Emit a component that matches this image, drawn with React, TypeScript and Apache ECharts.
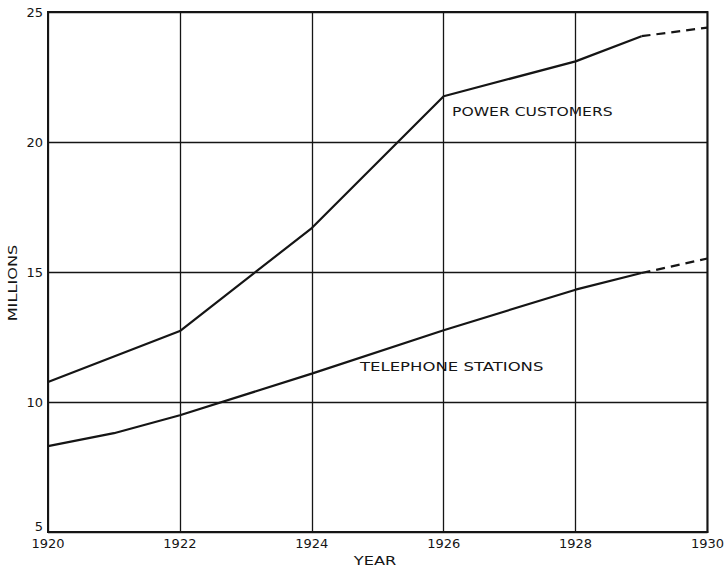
import React, { useEffect, useRef } from "react";
import * as echarts from "echarts";

// Data (millions)
const powerYears = [1920, 1922, 1924, 1926, 1928, 1929];
const powerValues = [10.77, 12.73, 16.69, 21.76, 23.1, 24.07];
const powerProjYears = [1929, 1930];
const powerProjValues = [24.07, 24.4];

const phoneYears = [1920, 1921, 1922, 1924, 1926, 1928, 1929];
const phoneValues = [8.3, 8.8, 9.49, 11.09, 12.76, 14.32, 14.96];
const phoneProjYears = [1929, 1930];
const phoneProjValues = [14.96, 15.52];

const seriesLabels = ["POWER CUSTOMERS", "TELEPHONE STATIONS"];
const xAxisTitle = "YEAR";
const yAxisTitle = "MILLIONS";

const INK = "#151515";
const FONT = "DejaVu Sans";

const pairs = (xs: number[], ys: number[]) => xs.map((x, i) => [x, ys[i]]);

export default function App() {
  const ref = useRef<HTMLDivElement>(null);

  useEffect(() => {
    if (!ref.current) return;
    const chart = echarts.init(ref.current, undefined, { renderer: "svg" });
    const solid = { color: INK, width: 2.2 };
    const dashed = { color: INK, width: 2.2, type: [9, 6] as any };
    chart.setOption({
      animation: false,
      backgroundColor: "#fff",
      grid: {
        left: 48,
        right: 17,
        top: 12,
        bottom: 37,
        show: true,
        borderColor: INK,
        borderWidth: 2,
      },
      xAxis: {
        type: "value",
        min: 1920,
        max: 1930,
        interval: 2,
        axisLine: { show: true, lineStyle: { color: INK, width: 2 } },
        axisTick: { show: false },
        splitLine: { show: true, lineStyle: { color: INK, width: 1.3 } },
        axisLabel: {
          formatter: (v: number) => String(v),
          color: INK,
          fontFamily: FONT,
          fontSize: 13,
          margin: 5,
        },
      },
      yAxis: {
        type: "value",
        min: 5,
        max: 25,
        interval: 5,
        axisLine: { show: true, lineStyle: { color: INK, width: 2 } },
        axisTick: { show: false },
        splitLine: { show: true, lineStyle: { color: INK, width: 1.3 } },
        axisLabel: {
          color: INK,
          fontFamily: FONT,
          fontSize: 13,
          margin: 5,
          formatter: (v: number) => (v === 5 ? "{low|" + v + "}" : String(v)),
          rich: {
            low: {
              color: INK,
              fontFamily: FONT,
              fontSize: 13,
              padding: [0, 0, 11, 0],
            },
          },
        },
      },
      series: [
        {
          type: "line",
          data: pairs(powerYears, powerValues),
          showSymbol: false,
          symbol: "none",
          lineStyle: solid,
        },
        {
          type: "line",
          data: pairs(powerProjYears, powerProjValues),
          showSymbol: false,
          symbol: "none",
          lineStyle: dashed,
        },
        {
          type: "line",
          data: pairs(phoneYears, phoneValues),
          showSymbol: false,
          symbol: "none",
          lineStyle: solid,
        },
        {
          type: "line",
          data: pairs(phoneProjYears, phoneProjValues),
          showSymbol: false,
          symbol: "none",
          lineStyle: dashed,
        },
      ],
      graphic: [
        {
          type: "text",
          x: 452,
          y: 111,
          scaleX: 1.2,
          style: {
            text: seriesLabels[0],
            fill: INK,
            fontFamily: FONT,
            fontSize: 13,
            verticalAlign: "middle",
            align: "left",
          },
        },
        {
          type: "text",
          x: 360,
          y: 367,
          scaleX: 1.27,
          style: {
            text: seriesLabels[1],
            fill: INK,
            fontFamily: FONT,
            fontSize: 13,
            verticalAlign: "middle",
            align: "left",
          },
        },
        {
          type: "text",
          x: 375,
          y: 561,
          scaleX: 1.35,
          style: {
            text: xAxisTitle,
            fill: INK,
            fontFamily: FONT,
            fontSize: 12,
            verticalAlign: "middle",
            align: "center",
          },
        },
        {
          type: "text",
          x: 13,
          y: 283,
          rotation: Math.PI / 2,
          scaleX: 1.35,
          style: {
            text: yAxisTitle,
            fill: INK,
            fontFamily: FONT,
            fontSize: 12,
            verticalAlign: "middle",
            align: "center",
          },
        },
      ],
    });
    return () => chart.dispose();
  }, []);

  return (
    <div
      ref={ref}
      style={{ position: "fixed", left: 0, top: 0, width: 727, height: 569, background: "#fff" }}
    />
  );
}
